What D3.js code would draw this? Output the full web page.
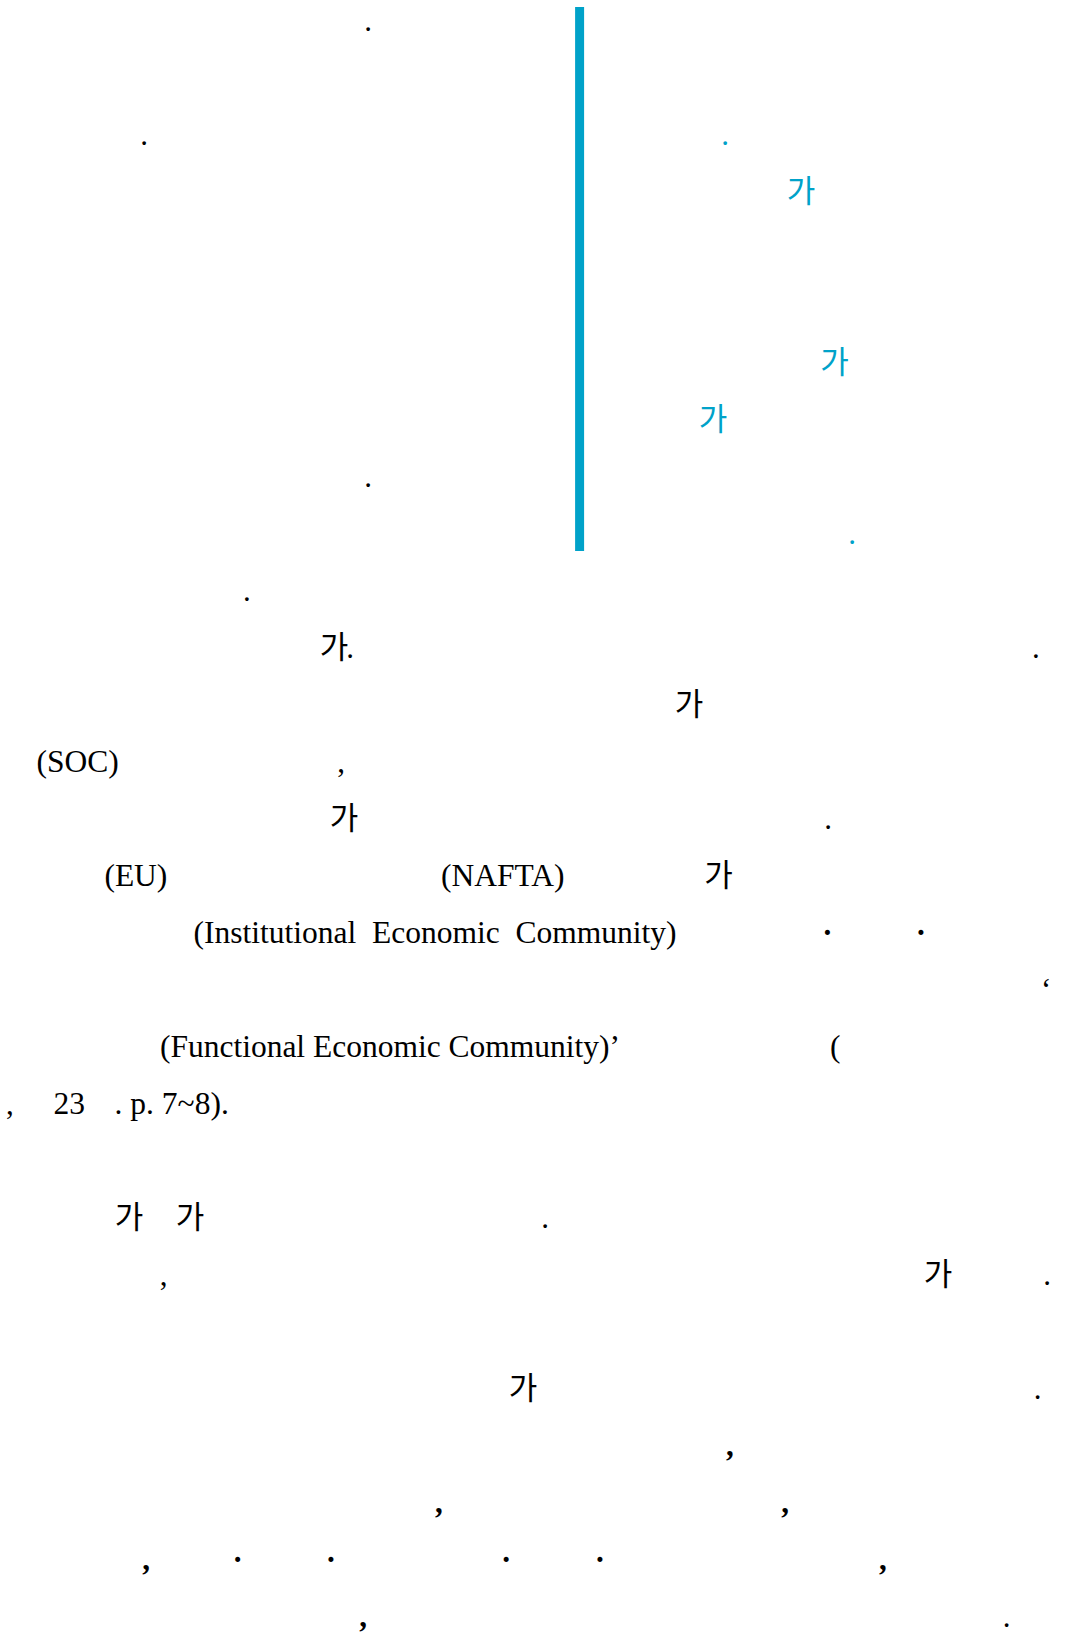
<!DOCTYPE html>
<html>
<head>
<meta charset="utf-8">
<script src="https://cdn.jsdelivr.net/npm/d3@7"></script>
<style>
  body { margin: 0; background: #fff; }
  svg { display: block; }
</style>
</head>
<body>
<div id="container"></div>
<script>
// text rows of the page (row index) and character cells along a row (col)
const rowCount = 29;
const colCount = 36;

// blue sidebar on the right
const sidebarRule = { col: 19.32, from: 0, to: 9 };
const sidebarGa = [{ row: 3, col: 26.7 }, { row: 6, col: 27.82 }, { row: 7, col: 23.77 }];
const sidebarDots = [{ row: 2, col: 24.17 }, { row: 9, col: 28.4 }];

// black body marks
const bodyGa = [
  { row: 11, col: 11.13 }, { row: 12, col: 22.97 }, { row: 14, col: 11.47 },
  { row: 15, col: 23.95 }, { row: 21, col: 4.3 }, { row: 21, col: 6.33 },
  { row: 22, col: 31.27 }, { row: 24, col: 17.43 }
];
const periods = [
  { row: 0, col: 12.27 }, { row: 2, col: 4.8 }, { row: 8, col: 12.27 },
  { row: 10, col: 8.23 }, { row: 11, col: 11.67 }, { row: 11, col: 34.53 },
  { row: 14, col: 27.6 }, { row: 21, col: 18.17 }, { row: 22, col: 34.9 },
  { row: 24, col: 34.59 }, { row: 28, col: 33.55 }
];
const thinCommas = [{ row: 13, col: 11.37 }, { row: 19, col: 0.33 }, { row: 22, col: 5.45 }];
const boldCommas = [
  { row: 25, col: 24.33 }, { row: 26, col: 14.63 }, { row: 26, col: 26.17 },
  { row: 27, col: 4.87 }, { row: 27, col: 29.43 }, { row: 28, col: 12.1 }
];
const middleDots = [
  { row: 16, col: 27.58 }, { row: 16, col: 30.7 },
  { row: 27, col: 7.92 }, { row: 27, col: 11.03 }, { row: 27, col: 16.87 }, { row: 27, col: 20 }
];
const quotes = [{ row: 17, col: 34.87, text: "\u2018" }];
// end = column where a justified phrase stops
const latinWords = [
  { row: 13, col: 1.22, text: "(SOC)" },
  { row: 15, col: 3.48, text: "(EU)" },
  { row: 15, col: 14.7, text: "(NAFTA)" },
  { row: 16, col: 6.45, end: 22.55, text: "(Institutional Economic Community)" },
  { row: 18, col: 5.33, text: "(Functional Economic Community)\u2019" },
  { row: 18, col: 27.67, text: "(" },
  { row: 19, col: 1.78, text: "23" },
  { row: 19, col: 3.82, text: ". p. 7~8)." }
];

const width = 1080;
const height = 1636;

const svg = d3.select("#container").append("svg")
  .attr("width", width)
  .attr("height", height)
  .style("background", "#fff");

const rowY = d3.scaleLinear().domain([0, rowCount - 1]).range([31, 1627]);
const colX = d3.scaleLinear().domain([0, colCount]).range([0, width]);

const blue = "#00a2c9";
const serif = "'Liberation Serif', 'Times New Roman', serif";
const hangul = "'Noto Sans CJK KR', 'Noto Sans', sans-serif";

svg.append("rect")
  .attr("x", colX(sidebarRule.col) - 4.5)
  .attr("y", rowY(sidebarRule.from) - 24)
  .attr("width", 9)
  .attr("height", rowY(sidebarRule.to) - rowY(sidebarRule.from) + 31)
  .attr("fill", blue);

function marks(data, text, font, color, weight, anchor, size) {
  return svg.append("g")
    .selectAll("text")
    .data(data)
    .enter()
    .append("text")
    .attr("x", (d) => colX(d.col))
    .attr("y", (d) => rowY(d.row))
    .attr("text-anchor", anchor || "middle")
    .style("font-family", font)
    .style("font-size", size || "31px")
    .style("font-weight", weight || "normal")
    .style("white-space", "pre")
    .attr("fill", color)
    .text((d) => d.text || text);
}

marks(sidebarGa, "가", hangul, blue);
marks(sidebarDots, ".", serif, blue);
marks(bodyGa, "가", hangul, "#000");
marks(periods, ".", serif, "#000");
marks(thinCommas, ",", serif, "#000");
marks(boldCommas, ",", serif, "#000", "bold");
marks(middleDots, "\u00b7", serif, "#000", "bold");
marks(quotes, null, serif, "#000");

// stretch the spaces of justified phrases up to their end column
marks(latinWords, null, serif, "#000", "normal", "start", "31.5px")
  .each(function (d) {
    if (d.end == null) return;
    const natural = this.getComputedTextLength();
    const gaps = d.text.split(" ").length - 1;
    const extra = (colX(d.end) - colX(d.col) - natural) / gaps;
    d3.select(this).style("word-spacing", extra + "px");
  });
</script>
</body>
</html>
